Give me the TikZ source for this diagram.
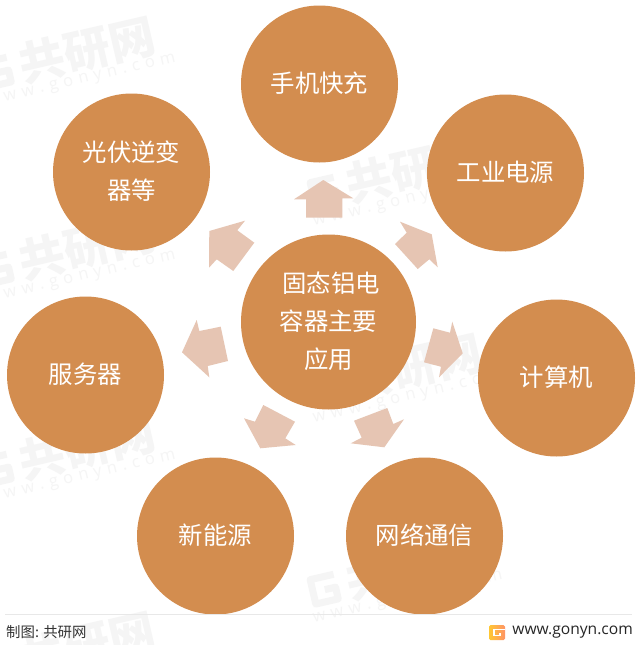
\documentclass[tikz,border=0pt]{standalone}
\usepackage{fontspec}
\setmainfont{Noto Sans CJK SC}
\newfontfamily\latinf{Open Sans}
\definecolor{orangec}{HTML}{D38D4F}
\definecolor{arrowc}{HTML}{E6C5B3}
\definecolor{wmc}{HTML}{F5F5F5}
\tikzset{
  hub/.style={circle,fill=orangec,minimum size=157pt,inner sep=0pt},
  centre hub/.style={hub,minimum size=175pt},
  hubtext/.style={inner sep=0pt,text=white,font=\fontsize{24.4}{38}\selectfont,align=center,yshift=1pt},
  blockarrow/.style={fill=arrowc,draw=none},
  wmtext/.style={text=wmc,font=\fontsize{46}{46}\selectfont\bfseries,inner sep=0pt,rotate=13},
  wmurl/.style={text=wmc,font=\latinf\fontsize{16.5}{16.5}\selectfont,inner sep=0pt,rotate=13},
}
\newcommand{\wmark}[2]{%
  \begin{scope}[shift={(#1,#2)}]
    \node[wmtext] at (0,0) {共研网};
    \node[wmurl] at (-6,31) {w\,\,w\,\,w\,\,.\,\,g\,\,o\,\,n\,\,y\,\,n\,\,.\,\,c\,\,o\,\,m};
    \begin{scope}[rotate=13]
      \draw[wmc,line width=7pt,line join=round] (-80,-11) -- (-104,-11) -- (-104,14) -- (-81,14) -- (-81,2) -- (-92,2);
    \end{scope}
  \end{scope}}
\begin{document}
\begin{tikzpicture}[x=1pt,y=-1pt]
\useasboundingbox (0,0) rectangle (638,645);
\fill[white] (0,0) rectangle (638,645);
\wmark{87}{50}
\wmark{87}{247}
\wmark{87}{447}
\wmark{87}{645}
\wmark{414}{170}
\wmark{414}{367}
\wmark{414}{567}
\fill[blockarrow] (323.3,180)--(353.3,198.3)--(342.3,198.3)--(342.3,217.7)--(306,217.7)--(306,199.3)--(294,199.3)--cycle;
\fill[blockarrow] (400,221.7)--(431.7,234.3)--(437.7,267.3)--(429.3,259.3)--(417.7,269)--(395,244)--(406.7,232.7)--cycle;
\fill[blockarrow] (452.3,321.7)--(462.7,353.3)--(439,377.3)--(441,366.7)--(424,362.3)--(433.3,328.3)--(450,332.7)--cycle;
\fill[blockarrow] (404,419.3)--(384.3,447.3)--(350.7,443.3)--(361.7,437.7)--(354,420.7)--(387.3,408)--(393.3,424)--cycle;
\fill[blockarrow] (244,418.3)--(260.3,448.3)--(295.7,445)--(285.3,438.3)--(295,421.7)--(263.3,405)--(255,421.7)--cycle;
\fill[blockarrow] (182,352.3)--(209.3,377.3)--(207.7,366)--(228,361)--(220.7,326.7)--(199.3,331)--(196.7,320)--cycle;
\fill[blockarrow] (209.3,231)--(245,220.7)--(237.3,230.3)--(254.3,242.7)--(233.3,271)--(216.7,259.3)--(209,267.7)--cycle;
\node[centre hub] (c) at (328.5,322) {};
\node[hub] (n1) at (319.5,84) {};
\node[hub] (n2) at (505.5,173) {};
\node[hub] (n3) at (556.5,378) {};
\node[hub] (n4) at (424.5,536) {};
\node[hub] (n5) at (215.5,536) {};
\node[hub] (n6) at (85.5,375) {};
\node[hub] (n7) at (131.5,172) {};
\node[hubtext] (tc) at (c) {\hspace*{5pt}固态铝电\\容器主要\\应用};
\node[hubtext] (t1) at (n1) {手机快充};
\node[hubtext] (t2) at (n2) {工业电源};
\node[hubtext] (t3) at (n3) {计算机};
\node[hubtext] (t4) at (n4) {网络通信};
\node[hubtext] (t5) at (n5) {新能源};
\node[hubtext] (t6) at (n6) {服务器};
\node[hubtext] (t7) at (n7) {光伏逆变\\器等};
\draw[draw=black!9,line width=1pt] (5,614.5) -- (632,614.5);
\node[anchor=west,inner sep=0pt,text=black!80,font=\fontsize{14.4}{14.4}\selectfont] (src) at (6,632.5) {制图: 共研网};
\node[anchor=east,inner sep=0pt,text=black!85,font=\latinf\fontsize{15.6}{15.6}\selectfont] (url) at (633,632) {www.gonyn.com};
\shade[left color=orange!55!yellow!80,right color=red!40!orange!60,rounded corners=1.5pt] (489,625) rectangle (505,640);
\draw[white,line width=1.8pt] (505,629.5) -- (494,629.5) -- (494,635.5) -- (500,635.5) -- (500,632.5);
\end{tikzpicture}
\end{document}
